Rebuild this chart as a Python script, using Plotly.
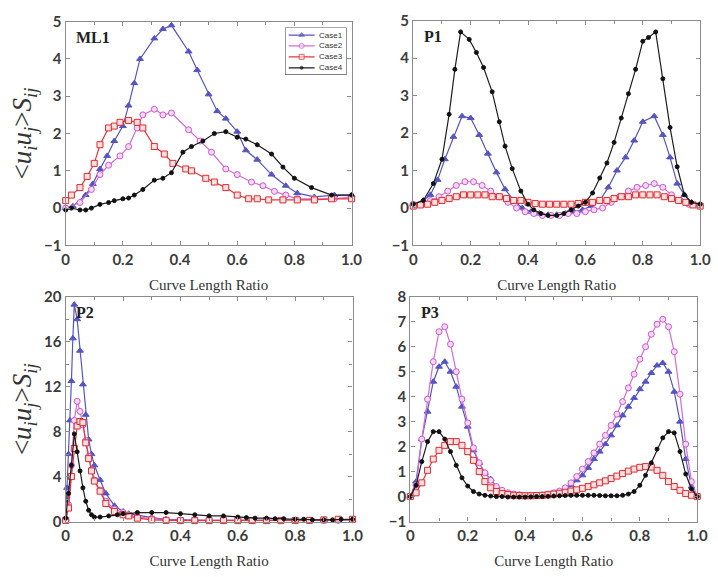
import plotly.graph_objects as go

W, H = 718, 577

# ---------------- ML1 ----------------
ml1_case1_x = [0.0, 0.025, 0.07, 0.095, 0.12, 0.145, 0.17, 0.2, 0.22, 0.24, 0.26, 0.31, 0.34, 0.37,
               0.43, 0.46, 0.5, 0.53, 0.56, 0.6, 0.63, 0.67, 0.72, 0.77, 0.81, 0.87, 0.94, 1.0]
ml1_case1_y = [0.0, 0.05, 0.35, 0.65, 1.05, 1.4, 1.8, 2.2, 2.75, 3.35, 4.0, 4.55, 4.8, 4.9,
               4.2, 3.7, 3.05, 2.6, 2.4, 2.05, 1.55, 1.3, 0.9, 0.6, 0.4, 0.3, 0.35, 0.35]
ml1_case2_x = [0.0, 0.05, 0.09, 0.12, 0.15, 0.19, 0.22, 0.25, 0.27, 0.31, 0.34, 0.37, 0.43,
               0.47, 0.51, 0.56, 0.6, 0.65, 0.69, 0.73, 0.77, 0.81, 0.87, 0.94, 1.0]
ml1_case2_y = [0.0, 0.15, 0.5, 0.9, 1.15, 1.4, 1.65, 2.15, 2.5, 2.65, 2.5, 2.55, 2.1,
               1.8, 1.5, 1.05, 0.9, 0.7, 0.6, 0.45, 0.35, 0.25, 0.25, 0.25, 0.3]
ml1_case3_x = [0.0, 0.02, 0.05, 0.075, 0.1, 0.12, 0.15, 0.17, 0.19, 0.22, 0.25, 0.27, 0.31, 0.345,
               0.375, 0.42, 0.44, 0.49, 0.52, 0.56, 0.6, 0.64, 0.67, 0.71, 0.76, 0.81, 0.87, 0.93, 1.0]
ml1_case3_y = [0.2, 0.35, 0.55, 0.85, 1.2, 1.7, 2.15, 2.2, 2.3, 2.35, 2.3, 2.15, 1.65, 1.45,
               1.2, 1.05, 1.0, 0.8, 0.7, 0.55, 0.35, 0.25, 0.25, 0.22, 0.22, 0.22, 0.22, 0.25, 0.25]
ml1_case4_x = [0.0, 0.02, 0.05, 0.07, 0.09, 0.12, 0.15, 0.17, 0.2, 0.22, 0.24, 0.27, 0.31, 0.34,
               0.37, 0.41, 0.44, 0.48, 0.52, 0.56, 0.6, 0.63, 0.67, 0.72, 0.76, 0.8, 0.86, 0.93, 1.0]
ml1_case4_y = [-0.05, 0.0, -0.05, -0.05, 0.0, 0.1, 0.15, 0.2, 0.25, 0.27, 0.35, 0.5, 0.75, 0.8,
               0.95, 1.5, 1.65, 1.8, 2.0, 2.05, 1.9, 1.85, 1.7, 1.45, 1.1, 0.8, 0.55, 0.35, 0.35]

# ---------------- P1 ----------------
p1_case1_x = [0.0, 0.035, 0.06, 0.085, 0.11, 0.14, 0.17, 0.2, 0.23, 0.26, 0.29, 0.32, 0.35, 0.38,
              0.41, 0.44, 0.47, 0.5, 0.53, 0.56, 0.59, 0.62, 0.65, 0.68, 0.71, 0.74, 0.77, 0.8,
              0.84, 0.87, 0.895, 0.92, 0.945, 0.97, 1.0]
p1_case1_y = [0.1, 0.2, 0.35, 0.75, 1.3, 1.9, 2.45, 2.4, 1.95, 1.45, 0.95, 0.5, 0.2, 0.0,
              -0.1, -0.15, -0.18, -0.18, -0.15, -0.1, -0.05, 0.05, 0.2, 0.55, 1.0, 1.35, 1.8, 2.3,
              2.45, 1.95, 1.35, 0.65, 0.35, 0.15, 0.1]
p1_case2_x = [0.0, 0.03, 0.06, 0.09, 0.12, 0.15, 0.18, 0.21, 0.24, 0.27, 0.3, 0.33, 0.36, 0.39,
              0.42, 0.45, 0.48, 0.51, 0.54, 0.57, 0.6, 0.63, 0.66, 0.69, 0.72, 0.75, 0.78, 0.81,
              0.84, 0.87, 0.9, 0.93, 0.96, 1.0]
p1_case2_y = [0.1, 0.1, 0.2, 0.3, 0.45, 0.6, 0.7, 0.7, 0.6, 0.45, 0.3, 0.15, 0.0, -0.1,
              -0.15, -0.2, -0.2, -0.2, -0.15, -0.15, -0.1, -0.05, 0.0, 0.15, 0.3, 0.45, 0.55, 0.6,
              0.65, 0.55, 0.35, 0.2, 0.1, 0.05]
p1_case3_x = [0.0, 0.025, 0.05, 0.075, 0.1, 0.125, 0.15, 0.175, 0.2, 0.225, 0.25, 0.275, 0.3, 0.325,
              0.35, 0.375, 0.4, 0.425, 0.45, 0.475, 0.5, 0.525, 0.55, 0.575, 0.6, 0.625, 0.65,
              0.675, 0.7, 0.725, 0.75, 0.775, 0.8, 0.825, 0.85, 0.875, 0.9, 0.925, 0.95, 0.975, 1.0]
p1_case3_y = [0.05, 0.08, 0.1, 0.15, 0.2, 0.25, 0.3, 0.35, 0.35, 0.35, 0.35, 0.3, 0.3, 0.25,
              0.2, 0.2, 0.15, 0.12, 0.1, 0.1, 0.1, 0.1, 0.1, 0.12, 0.15, 0.15, 0.2,
              0.2, 0.25, 0.3, 0.3, 0.35, 0.35, 0.35, 0.35, 0.3, 0.25, 0.2, 0.15, 0.08, 0.05]
p1_case4_x = [0.0, 0.035, 0.07, 0.1, 0.125, 0.145, 0.165, 0.195, 0.22, 0.245, 0.275, 0.3, 0.32,
              0.345, 0.375, 0.4, 0.42, 0.445, 0.47, 0.5, 0.525, 0.55, 0.575, 0.6, 0.625, 0.65,
              0.675, 0.7, 0.725, 0.75, 0.775, 0.8, 0.82, 0.845, 0.87, 0.895, 0.92, 0.945, 0.97, 1.0]
p1_case4_y = [0.1, 0.2, 0.65, 1.3, 2.5, 3.7, 4.7, 4.5, 4.15, 3.75, 3.1, 2.3, 1.65,
              1.05, 0.45, 0.1, -0.05, -0.15, -0.2, -0.2, -0.15, -0.05, 0.05, 0.15, 0.4, 0.8,
              1.2, 1.75, 2.4, 3.05, 3.7, 4.45, 4.55, 4.7, 3.45, 2.15, 1.1, 0.35, 0.15, 0.1]

# ---------------- P2 ----------------
p2_case1_x = [0.0, 0.005, 0.01, 0.015, 0.02, 0.025, 0.03, 0.04, 0.05, 0.06, 0.07, 0.08, 0.09, 0.1,
              0.12, 0.14, 0.17, 0.2, 0.22, 0.25, 0.3, 0.35, 0.4, 0.45, 0.5, 0.55, 0.6, 0.65,
              0.7, 0.75, 0.8, 0.85, 0.9, 0.95, 1.0]
p2_case1_y = [0.2, 3.0, 6.0, 9.0, 12.5, 16.3, 19.3, 18.0, 15.2, 12.2, 9.5, 7.3, 6.0, 5.0,
              3.7, 2.5, 1.4, 0.9, 0.7, 0.55, 0.35, 0.2, 0.15, 0.1, 0.1, 0.1, 0.1, 0.1,
              0.1, 0.1, 0.1, 0.1, 0.1, 0.1, 0.15]
p2_case2_x = [0.0, 0.01, 0.02, 0.03, 0.04, 0.05, 0.06, 0.07, 0.08, 0.09, 0.1, 0.12, 0.14, 0.17,
              0.2, 0.22, 0.25, 0.3, 0.35, 0.4, 0.45, 0.5, 0.55, 0.6, 0.65, 0.7, 0.75, 0.8,
              0.85, 0.9, 0.95, 1.0]
p2_case2_y = [0.2, 1.5, 5.0, 9.0, 10.7, 9.8, 8.6, 7.2, 5.8, 4.6, 3.7, 2.8, 1.8, 1.1,
              0.8, 0.6, 0.4, 0.25, 0.15, 0.1, 0.1, 0.1, 0.1, 0.1, 0.1, 0.1, 0.1, 0.1,
              0.1, 0.1, 0.1, 0.15]
p2_case3_x = p2_case2_x
p2_case3_y = [0.1, 1.2, 4.0, 6.5, 8.5, 8.9, 8.8, 7.0, 5.6, 4.5, 3.6, 2.7, 1.6, 0.9,
              0.6, 0.5, 0.3, 0.15, 0.1, 0.08, 0.08, 0.08, 0.08, 0.08, 0.08, 0.08, 0.08, 0.1,
              0.1, 0.15, 0.2, 0.2]
p2_case4_x = [0.0, 0.01, 0.02, 0.03, 0.04, 0.05, 0.06, 0.07, 0.08, 0.09, 0.1, 0.12, 0.15, 0.18,
              0.2, 0.25, 0.3, 0.35, 0.4, 0.45, 0.5, 0.55, 0.6, 0.63, 0.66, 0.7, 0.73, 0.76,
              0.8, 0.83, 0.86, 0.9, 0.93, 0.96, 1.0]
p2_case4_y = [0.3, 2.5, 5.0, 7.8, 6.2, 4.5, 3.0, 1.8, 1.0, 0.6, 0.4, 0.4, 0.5, 0.6,
              0.7, 0.8, 0.8, 0.8, 0.7, 0.6, 0.5, 0.5, 0.4, 0.35, 0.3, 0.3, 0.25, 0.25,
              0.2, 0.2, 0.15, 0.15, 0.15, 0.2, 0.2]

# ---------------- P3 ----------------
p3_x = [0.0, 0.02, 0.04, 0.06, 0.08, 0.1, 0.12, 0.14, 0.16, 0.18, 0.2, 0.22, 0.24, 0.26, 0.28,
        0.3, 0.32, 0.34, 0.36, 0.38, 0.4, 0.42, 0.44, 0.46, 0.48, 0.5, 0.52, 0.54, 0.56, 0.58,
        0.6, 0.62, 0.64, 0.66, 0.68, 0.7, 0.72, 0.74, 0.76, 0.78, 0.8, 0.82, 0.84, 0.86, 0.88,
        0.9, 0.92, 0.94, 0.96, 0.98, 1.0]
p3_case1_y = [0.0, 0.6, 2.3, 3.4, 4.6, 5.2, 5.4, 5.0, 4.4, 3.6, 2.8, 1.85, 1.35, 0.95, 0.7,
              0.4, 0.25, 0.15, 0.1, 0.07, 0.05, 0.05, 0.05, 0.06, 0.1, 0.13, 0.2, 0.3, 0.45, 0.65,
              0.85, 1.15, 1.5, 1.8, 2.1, 2.45, 2.85, 3.25, 3.6, 3.95, 4.3, 4.6, 4.95, 5.25, 5.35,
              5.0, 4.2, 3.0, 1.5, 0.4, 0.0]
p3_case2_y = [0.0, 0.45, 2.3, 3.9, 5.4, 6.6, 6.8, 6.1, 5.0, 3.9, 2.95, 1.95, 1.35, 0.95, 0.65,
              0.4, 0.25, 0.15, 0.1, 0.07, 0.05, 0.05, 0.05, 0.06, 0.1, 0.15, 0.22, 0.35, 0.55, 0.8,
              1.1, 1.4, 1.75, 2.1, 2.45, 2.85, 3.3, 3.8, 4.35, 4.9, 5.5, 6.0, 6.5, 6.9, 7.1,
              6.8, 5.8, 4.1, 2.1, 0.6, 0.0]
p3_case3_y = [0.0, 0.15, 0.55, 1.05, 1.5, 1.85, 2.05, 2.2, 2.2, 2.05, 1.8, 1.45, 1.0, 0.6, 0.35,
              0.2, 0.12, 0.08, 0.05, 0.04, 0.03, 0.03, 0.04, 0.05, 0.07, 0.1, 0.13, 0.17, 0.22, 0.27,
              0.33, 0.4, 0.47, 0.55, 0.63, 0.72, 0.82, 0.92, 1.02, 1.1, 1.17, 1.2, 1.18, 1.05, 0.85,
              0.6, 0.4, 0.25, 0.12, 0.05, 0.0]
p3_case4_y = [0.0, 0.45, 1.4, 2.2, 2.6, 2.6, 2.3, 1.8, 1.25, 0.75, 0.42, 0.2, 0.1, 0.05, 0.02,
              0.0, 0.0, -0.02, -0.02, -0.02, -0.02, -0.01, 0.0, 0.0, 0.01, 0.02, 0.03, 0.04, 0.05, 0.05,
              0.05, 0.05, 0.05, 0.04, 0.03, 0.03, 0.03, 0.05, 0.1, 0.2, 0.45, 0.85, 1.35, 1.9, 2.35,
              2.6, 2.55, 1.8, 0.9, 0.3, 0.0]

x_ticks = [0, 0.2, 0.4, 0.6, 0.8, 1.0]
x_ticktext = ["0", "0.2", "0.4", "0.6", "0.8", "1.0"]
case_names = ["Case1", "Case2", "Case3", "Case4"]

panels = [
    dict(name="ML1", yr=[-1, 5], ydt=1, ymin=None,
         series=[(ml1_case1_x, ml1_case1_y), (ml1_case2_x, ml1_case2_y),
                 (ml1_case3_x, ml1_case3_y), (ml1_case4_x, ml1_case4_y)]),
    dict(name="P1", yr=[-1, 5], ydt=1, ymin=None,
         series=[(p1_case1_x, p1_case1_y), (p1_case2_x, p1_case2_y),
                 (p1_case3_x, p1_case3_y), (p1_case4_x, p1_case4_y)]),
    dict(name="P2", yr=[0, 20], ydt=4, ymin=2,
         series=[(p2_case1_x, p2_case1_y), (p2_case2_x, p2_case2_y),
                 (p2_case3_x, p2_case3_y), (p2_case4_x, p2_case4_y)]),
    dict(name="P3", yr=[-1, 8], ydt=1, ymin=None,
         series=[(p3_x, p3_case1_y), (p3_x, p3_case2_y),
                 (p3_x, p3_case3_y), (p3_x, p3_case4_y)]),
]

# plot boxes in pixels: left, right, top, bottom
boxes = [(63, 355, 12, 243), (418, 711, 11, 243), (63, 356, 296, 528), (415, 708, 296, 528)]

styles = [
    dict(line="#5454c2", symbol="triangle-up", size=6, fill="#5454c2", mline="#5454c2"),
    dict(line="#d46cd4", symbol="circle", size=6, fill="#f6d6f6", mline="#c95cc9"),
    dict(line="#e8343c", symbol="square", size=6, fill="#fbe0e0", mline="#e02a32"),
    dict(line="#1e1e1e", symbol="circle", size=4, fill="#111111", mline="#111111"),
]

FRAME = "#8c8c8c"
TICKFONT = dict(family="Lato, Liberation Sans, sans-serif", size=15, color="#3c3c3c", weight="bold")
SERIF = "Liberation Serif, Times New Roman, serif"

fig = go.Figure()
layout = dict(width=W, height=H, autosize=False, margin=dict(l=0, r=0, t=0, b=0),
              paper_bgcolor="white", plot_bgcolor="white", showlegend=False)

ytitle = ("&lt;<i>u<sub>i</sub>u<sub>j</sub></i>&gt;<i>S<sub>ij</sub></i>")

for i, (p, b) in enumerate(zip(panels, boxes), start=1):
    l, r, t, bt = b
    xa = "xaxis" if i == 1 else f"xaxis{i}"
    ya = "yaxis" if i == 1 else f"yaxis{i}"
    xref = "x" if i == 1 else f"x{i}"
    yref = "y" if i == 1 else f"y{i}"
    layout[xa] = dict(
        domain=[l / W, r / W], range=[0, 1], anchor=yref,
        tickvals=x_ticks, ticktext=x_ticktext, ticks="inside", ticklen=4,
        tickcolor=FRAME, tickwidth=1, showline=True, linecolor=FRAME, linewidth=1.4,
        mirror="allticks", showgrid=False, zeroline=False, tickfont=TICKFONT,
        minor=dict(dtick=0.1, tick0=0, ticks="inside", ticklen=3, tickcolor=FRAME),
        title=dict(text="Curve Length Ratio", font=dict(family=SERIF, size=15, color="#333"),
                   standoff=12),
    )
    yax = dict(
        domain=[1 - bt / H, 1 - t / H], range=p["yr"], anchor=xref, dtick=p["ydt"], tick0=0,
        ticks="inside", ticklen=4, tickcolor=FRAME, tickwidth=1, showline=True,
        linecolor=FRAME, linewidth=1.4, mirror="allticks", showgrid=False, zeroline=False,
        tickfont=TICKFONT,
    )
    if p["ymin"]:
        yax["minor"] = dict(dtick=p["ymin"], ticks="inside", ticklen=3, tickcolor=FRAME)
    if i in (1, 3):
        yax["title"] = dict(text=ytitle, font=dict(family=SERIF, size=27, color="#333"),
                            standoff=4)
    layout[ya] = yax

    for k, ((xs, ys), st) in enumerate(zip(p["series"], styles)):
        fig.add_trace(go.Scatter(
            x=xs, y=ys, mode="lines+markers", name=case_names[k], xaxis=xref, yaxis=yref,
            line=dict(color=st["line"], width=1.2), cliponaxis=False,
            marker=dict(symbol=st["symbol"], size=st["size"], color=st["fill"],
                        line=dict(color=st["mline"], width=1)),
            hoverinfo="skip",
        ))

    layout.setdefault("annotations", []).append(dict(
        text=p["name"], xref=f"{xref} domain", yref=f"{yref} domain",
        x=0.03, y=0.975, xanchor="left", yanchor="top", showarrow=False,
        font=dict(family=SERIF, size=16, color="#222", weight="bold")))

# legend box inside the ML1 panel, drawn on its own small axis pair
lg_l, lg_r, lg_t, lg_b = 287, 350, 18, 67
layout["xaxis5"] = dict(domain=[lg_l / W, lg_r / W], range=[0, 1], visible=False, anchor="y5",
                        fixedrange=True)
layout["yaxis5"] = dict(domain=[1 - lg_b / H, 1 - lg_t / H], range=[0, 1], visible=False,
                        anchor="x5", fixedrange=True)
layout["shapes"] = [dict(type="rect", xref="x5", yref="y5", x0=0, x1=1, y0=0, y1=1,
                         line=dict(color="#555", width=1.2), fillcolor="white", layer="below")]
rows = [0.84, 0.61, 0.38, 0.15]
for k, (st, row) in enumerate(zip(styles, rows)):
    fig.add_trace(go.Scatter(
        x=[0.06, 0.27, 0.48], y=[row] * 3, mode="lines+markers", xaxis="x5", yaxis="y5",
        line=dict(color=st["line"], width=1.2), hoverinfo="skip",
        marker=dict(symbol=st["symbol"], size=[0, st["size"] - 1, 0], color=st["fill"],
                    line=dict(color=st["mline"], width=1))))
    layout["annotations"].append(dict(
        text=case_names[k], xref="x5", yref="y5", x=0.52, y=row, xanchor="left",
        yanchor="middle", showarrow=False,
        font=dict(family="Liberation Sans, sans-serif", size=8, color="#333")))

fig.update_layout(**layout)
fig.write_html("out.html")
